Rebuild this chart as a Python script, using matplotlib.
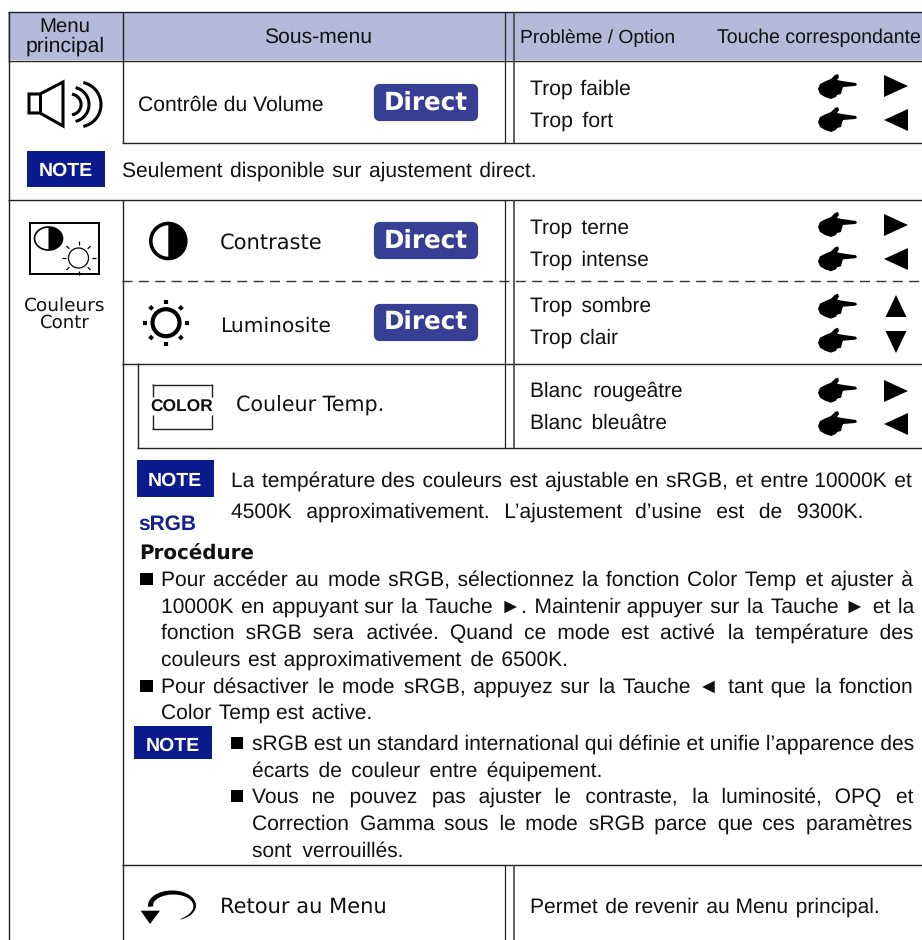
import numpy as np
import matplotlib
matplotlib.use("Agg")
import matplotlib.pyplot as plt
from matplotlib import font_manager as fm
from matplotlib.patches import Rectangle, FancyBboxPatch, Ellipse
from matplotlib.ft2font import FT2Font

plt.rcParams["text.hinting"] = "no_hinting"

# ---- content -------------------------------------------------------------
HEAD_MENU = ["Menu", "principal"]
HEAD_SUB = "Sous-menu"
HEAD_PROBLEM = "Problème / Option"
HEAD_KEY = "Touche correspondante"
SUB_LABELS = ["Contrôle du Volume", "Contraste", "Luminosite", "Couleur Temp.", "Retour au Menu"]
MENU_ITEM = ["Couleurs", "Contr"]
BADGE = "Direct"
NOTE = "NOTE"
NOTE_1 = "Seulement disponible sur ajustement direct."
PROBLEMS = ["Trop faible", "Trop fort", "Trop terne", "Trop intense", "Trop sombre",
            "Trop clair", "Blanc rougeâtre", "Blanc bleuâtre"]
PROBLEM_KEYS = [">", "<", ">", "<", "^", "v", ">", "<"]
NOTE_2 = ["La température des couleurs est ajustable en sRGB, et entre 10000K et",
          "4500K approximativement. L’ajustement d’usine est de 9300K."]
SRGB = "sRGB"
PROC = "Procédure"
PROC_LINES = ["Pour accéder au mode sRGB, sélectionnez la fonction Color Temp et ajuster à",
              "10000K en appuyant sur la Tauche ►. Maintenir appuyer sur la Tauche ► et la",
              "fonction sRGB sera activée. Quand ce mode est activé la température des",
              "couleurs est approximativement de 6500K.",
              "Pour désactiver le mode sRGB, appuyez sur la Tauche ◄ tant que la fonction",
              "Color Temp est active."]
NOTE_3 = ["sRGB est un standard international qui définie et unifie l’apparence des",
          "écarts de couleur entre équipement.",
          "Vous ne pouvez pas ajuster le contraste, la luminosité, OPQ et",
          "Correction Gamma sous le mode sRGB parce que ces paramètres",
          "sont verrouillés."]
RETURN_TEXT = "Permet de revenir au Menu principal."
ICON_TEXT = "COLOR"

# ---- palette ------------------------------------------------------------
HEAD_BG = "#b6bada"
BADGE_BG = "#363f94"
NOTE_BG = "#0b1a8c"
SRGB_COL = "#14228f"
INK = "#111111"
RULE = "#222222"

fig = plt.figure(figsize=(9.22, 9.40), dpi=100, facecolor="white")
ax = fig.add_axes([0, 0, 1, 1])
ax.set_xlim(0, 922)
ax.set_ylim(940, 0)
ax.axis("off")
R = fig.canvas.get_renderer()

SANS = "Liberation Sans"
WIDE = "DejaVu Sans"
path = fm.findfont(SANS)
has_hair = FT2Font(path).get_char_index(0x200A) != 0
FILL = "\u200a" if has_hair else " "


def width(s, size, **kw):
    t = ax.text(0, 0, s, fontsize=size, **kw)
    b = t.get_window_extent(R).width
    t.remove()
    return b


def settle(t, target):
    """Adjust a placed text until its drawn width is the target width."""
    for _ in range(4):
        w = t.get_window_extent(R).width
        t.set_fontsize(t.get_fontsize() * target / w)


def fit(s, x0, x1, y, px=20, family=SANS, color=INK, weight="normal"):
    """One line set between x0 and x1, scaling the size."""
    t = ax.text(x0, y, s, fontsize=px * .72, family=family, color=color, weight=weight,
                va="baseline", ha="left")
    settle(t, x1 - x0)


def justify(s, x0, x1, y, px=21, weight="normal", family=SANS, color=INK):
    """One line justified with thin fill between its words."""
    size = px * .72
    kw = dict(family=family, weight=weight)
    w = width(s, size, **kw)
    words = s.split(" ")
    extra = (x1 - x0) - w
    if extra > 0 and len(words) > 1:
        fw = max(width("a" + FILL + "a", size, **kw) - width("aa", size, **kw), .5)
        n = int(round(extra / fw))
        gaps = len(words) - 1
        out = words[0]
        done = 0
        for i, wd in enumerate(words[1:], 1):
            k = round(n * i / gaps) - done
            done += k
            out += " " + FILL * k + wd
        s = out
    t = ax.text(x0, y, s, fontsize=size, va="baseline", ha="left", color=color, **kw)
    settle(t, x1 - x0)


def hline(y, x0, x1, lw=1.0, color=RULE, **kw):
    ax.plot([x0, x1], [y, y], color=color, lw=lw, solid_capstyle="butt", **kw)


def vline(x, y0, y1, lw=1.0, color=RULE):
    ax.plot([x, x], [y0, y1], color=color, lw=lw, solid_capstyle="butt")


def badge(y0, y1, base):
    ax.add_patch(FancyBboxPatch((376, y0 + 3), 100, y1 - y0 - 6,
                                boxstyle="round,pad=0,rounding_size=4", mutation_aspect=1,
                                fc=BADGE_BG, ec=BADGE_BG, lw=3))
    fit(BADGE, 384, 468, base, px=25, family=WIDE, color="white", weight="bold")


def note(x0, x1, y0, y1, tx0, tx1, base):
    ax.add_patch(Rectangle((x0, y0), x1 - x0, y1 - y0, fc=NOTE_BG, ec="none"))
    fit(NOTE, tx0, tx1, base, color="white", weight="bold")


def hand(yc):
    px = np.array([0, 2, 8, 13, 17, 20, 21, 19, 24, 38, 39, 37, 25, 24, 23, 19, 18, 13, 7, 2, 0])
    py = np.array([2, -3, -6, -8, -12, -13, -10, -7, -6, -4, -2, -1, 0, 3, 7, 8, 10, 12, 10, 7, 2])
    ax.fill(818 + px, yc + py, color="black", lw=0)


def arrow(key, yc):
    x, h = 896, 11
    if key == ">":
        ax.fill([884, 908, 884], [yc - h, yc, yc + h], color="black", lw=0)
    elif key == "<":
        ax.fill([908, 884, 908], [yc - h, yc, yc + h], color="black", lw=0)
    elif key == "^":
        ax.fill([885.5, x, 906.5], [yc + h, yc - h, yc + h], color="black", lw=0)
    else:
        ax.fill([885.5, x, 906.5], [yc - h, yc + h, yc - h], color="black", lw=0)


def half_disc(cx, cy, rx, ry, lw):
    t = np.linspace(-np.pi / 2, np.pi / 2, 60)
    ax.fill(cx + rx * np.cos(t), cy + ry * np.sin(t), color="black", lw=0)
    ax.add_patch(Ellipse((cx, cy), 2 * rx, 2 * ry, fc="none", ec="black", lw=lw))


def sun(cx, cy, r, r0, r1, ring, ray):
    ax.add_patch(Ellipse((cx, cy), 2 * r, 2 * r, fc="none", ec="black", lw=ring))
    for a in np.arange(8) * np.pi / 4:
        ax.plot([cx + r0 * np.cos(a), cx + r1 * np.cos(a)],
                [cy + r0 * np.sin(a), cy + r1 * np.sin(a)],
                color="black", lw=ray, solid_capstyle="butt")


# ---- header and rules ----------------------------------------------------
ax.add_patch(Rectangle((8, 12), 914, 48, fc=HEAD_BG, ec="none"))
hline(12, 8, 922)
hline(60.5, 8, 922)
hline(143, 122, 922)
hline(200, 8, 922)
hline(363.5, 122, 922)
hline(448, 137, 922)
hline(865, 122, 922)
ax.plot([122, 922], [280.7, 280.7], color="#333333", lw=1.0, ls=(0, (7.2, 4.6)))
vline(8.5, 12, 940)
vline(122.5, 12, 143)
vline(122.5, 200, 940)
vline(137.5, 363, 448)
for yy in [(12, 143), (200, 448), (865, 940)]:
    vline(504.5, *yy, lw=.9)
    vline(513.5, *yy, lw=1.2, color="#444444")

fit(HEAD_MENU[0], 39, 90, 32, px=21)
fit(HEAD_MENU[1], 26, 105, 52, px=21)
fit(HEAD_SUB, 264, 372, 43)
fit(HEAD_PROBLEM, 520, 675, 43)
fit(HEAD_KEY, 717, 921, 43)

# ---- first block ---------------------------------------------------------
# speaker
ax.fill([29, 40, 63, 63, 40, 29], [94, 94, 82, 126, 113, 113], fc="white", ec="black", lw=2.2)
vline(40, 94, 113, lw=2.2, color="black")
for cx, rad, deg in [(70.8, 10.3, 75), (71.7, 17.3, 72), (78.6, 22.4, 74)]:
    t = np.radians(np.linspace(-deg, deg, 40))
    ax.plot(cx + rad * np.cos(t), 104.5 + rad * np.sin(t), color="black", lw=2.2)

fit(SUB_LABELS[0], 138, 323, 110.5)
badge(83, 122, 110)

PROBLEM_X1 = [631, 613, 629, 649, 651, 618, 683, 667]
PROBLEM_BASE = [95, 127, 233.3, 265.7, 311.7, 344, 396.7, 429]
HAND_Y = [87, 120, 225, 259.3, 306.7, 340.7, 390.7, 424]
ARROW_Y = [86, 120, 225, 259, 306, 342, 391, 424]
for label, key, x1, base, hy, ay in zip(PROBLEMS, PROBLEM_KEYS, PROBLEM_X1, PROBLEM_BASE, HAND_Y, ARROW_Y):
    justify(label, 530, x1, base)
    hand(hy)
    arrow(key, ay)

note(27, 105, 151, 187, 38.5, 92.5, 176)
justify(NOTE_1, 122, 536, 176.5)

# ---- second block --------------------------------------------------------
ax.add_patch(Rectangle((30, 223), 69, 51, fc="white", ec="black", lw=1.4))
half_disc(48.5, 238.5, 14, 11.5, 1.2)
sun(78.5, 258, 10, 13, 17, .9, .9)
fit(MENU_ITEM[0], 24, 105, 310.7, px=17, family=WIDE)
fit(MENU_ITEM[1], 40, 90, 328, px=17, family=WIDE)

half_disc(168.3, 241, 17.5, 17.5, 2.6)
fit(SUB_LABELS[1], 220, 323, 249, family=WIDE)
badge(221, 260, 248)

sun(166, 322.7, 13.5, 19, 23, 3, 3)
fit(SUB_LABELS[2], 220, 331, 332, family=WIDE)
badge(303, 342, 329)

# colour icon
hline(384.5, 152, 212, lw=1)
hline(428.5, 152, 212, lw=1)
for xx in (152.5, 211.5):
    vline(xx, 384, 397, lw=1)
    vline(xx, 415, 429, lw=1)
fit(ICON_TEXT, 150, 213, 412, px=17, weight="bold")
fit(SUB_LABELS[3], 236, 384, 412, family=WIDE)

# ---- notes ---------------------------------------------------------------
note(137, 214, 460, 497, 148, 202, 486)
justify(NOTE_2[0], 231, 912, 486.7)
justify(NOTE_2[1], 231, 863, 518)
fit(SRGB, 138, 196, 530, color=SRGB_COL, weight="bold")
fit(PROC, 139, 254, 559, px=18, family=WIDE, weight="bold")

PROC_X1 = [913, 913, 913, 568, 913, 372]
PROC_BASE = [586, 612.7, 639, 665.7, 692.7, 719]
for text, x1, base in zip(PROC_LINES, PROC_X1, PROC_BASE):
    justify(text, 161, x1, base)
for y0 in (573, 680):
    ax.add_patch(Rectangle((140, y0), 12.5, 11.5, fc="black", ec="none"))

note(134, 212, 726, 759, 146, 200, 751)
NOTE3_X1 = [913, 603, 913, 913, 404]
NOTE3_BASE = [750, 776.7, 803, 830, 856.7]
for text, x1, base in zip(NOTE_3, NOTE3_X1, NOTE3_BASE):
    justify(text, 252, x1, base)
for y0 in (737, 790):
    ax.add_patch(Rectangle((231, y0), 12, 11.5, fc="black", ec="none"))

# ---- return row ----------------------------------------------------------
t = np.linspace(np.radians(70), np.radians(-185), 120)
cx, cy, rx, ry = 172, 905.5, 24, 15
thick = 5 * np.linspace(0, 1, t.size) ** .55 + .2
xo, yo = cx + rx * np.cos(t), cy + ry * np.sin(t)
xi, yi = cx + (rx - thick) * np.cos(t), cy + (ry - thick) * np.sin(t)
ax.fill(np.r_[xo, xi[::-1]], np.r_[yo, yi[::-1]], color="black", lw=0)
ax.fill([140.7, 160, 150], [910.7, 910.7, 924], color="black", lw=0)
fit(SUB_LABELS[4], 220, 387, 912.7, family=WIDE)
justify(RETURN_TEXT, 530, 879, 913)

fig.savefig("out.png", dpi=100, facecolor="white")
